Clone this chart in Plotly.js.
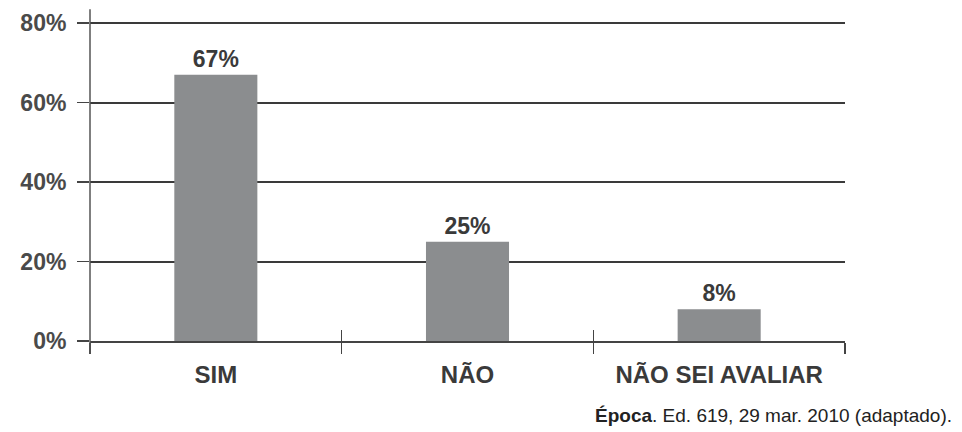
<!DOCTYPE html>
<html>
<head>
<meta charset="utf-8">
<script src="https://cdn.plot.ly/plotly-3.0.1.min.js"></script>
<style>html,body{margin:0;padding:0;background:#fff;}#chart{width:962px;height:432px;}</style>
</head>
<body>
<div id="chart"></div>
<script>
var categories = ["SIM", "NÃO", "NÃO SEI AVALIAR"];
var values = [67, 25, 8];
var valueLabels = ["67%", "25%", "8%"];
var yTickValues = [0, 20, 40, 60, 80];
var yTickLabels = ["0%", "20%", "40%", "60%", "80%"];
var sourceBold = "Época";
var sourceRest = ". Ed. 619, 29 mar. 2010 (adaptado).";

var fontFam = "Liberation Sans, Arial, sans-serif";

var trace = {
  type: "bar",
  x: categories,
  y: values,
  text: valueLabels,
  textposition: "outside",
  cliponaxis: false,
  textfont: {family: fontFam, size: 23, color: "#3a3a3a", weight: "bold"},
  marker: {color: "#8b8d8f", line: {width: 0}},
  width: 0.33,
  hoverinfo: "none"
};

var ghost = {
  type: "bar",
  x: categories,
  y: [0, 0, 0],
  xaxis: "x2",
  yaxis: "y",
  showlegend: false,
  hoverinfo: "none",
  marker: {color: "rgba(0,0,0,0)"}
};

var layout = {
  width: 962,
  height: 432,
  margin: {l: 90, r: 117, t: 22, b: 91},
  paper_bgcolor: "#ffffff",
  plot_bgcolor: "#ffffff",
  showlegend: false,
  xaxis: {
    type: "category",
    showline: true,
    linecolor: "#444",
    linewidth: 2,
    ticks: "outside",
    tickson: "boundaries",
    ticklen: 11,
    tickwidth: 1.5,
    tickcolor: "#444",
    showgrid: false,
    zeroline: false,
    tickfont: {family: fontFam, size: 24, color: "#3a3a3a", weight: "bold"},
    ticklabelstandoff: 11,
    range: [-0.5, 2.5]
  },
  xaxis2: {
    type: "category",
    overlaying: "x",
    matches: "x",
    anchor: "y",
    side: "bottom",
    showline: false,
    ticks: "inside",
    tickson: "boundaries",
    ticklen: 11,
    tickwidth: 1.5,
    tickcolor: "#444",
    showticklabels: false,
    showgrid: false,
    zeroline: false
  },
  yaxis: {
    range: [0, 80.3],
    tickvals: yTickValues,
    ticktext: yTickLabels,
    showline: false,
    ticks: "outside",
    ticklen: 12,
    tickwidth: 1.5,
    tickcolor: "#444",
    showgrid: true,
    gridcolor: "#3a3a3a",
    gridwidth: 2,
    zeroline: false,
    tickfont: {family: fontFam, size: 23, color: "#4a4a4a", weight: "bold"},
    ticklabelstandoff: 6
  },
  shapes: [
    {type: "line", xref: "paper", yref: "paper", x0: 0, x1: 0, y0: -0.04, y1: 1.04,
     line: {color: "#555", width: 1.5}}
  ],
  annotations: [
    {xref: "paper", yref: "paper", x: 1.145, y: -0.235, xanchor: "right", yanchor: "middle",
     showarrow: false,
     text: "<b>" + sourceBold + "</b>" + sourceRest,
     font: {family: fontFam, size: 19, color: "#222"}}
  ]
};

Plotly.newPlot("chart", [trace, ghost], layout, {displayModeBar: false, staticPlot: true});
</script>
</body>
</html>
